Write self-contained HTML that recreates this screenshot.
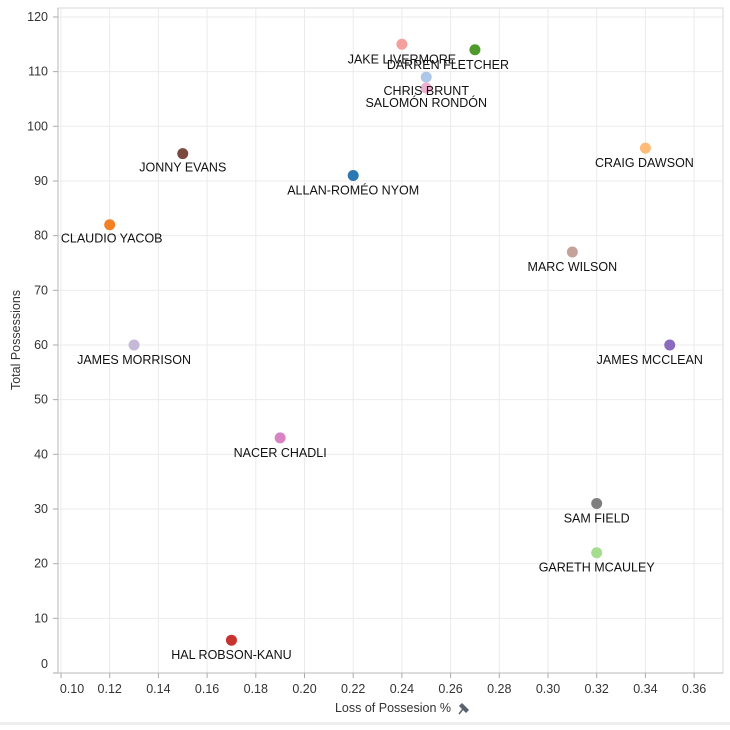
<!DOCTYPE html>
<html><head><meta charset="utf-8"><style>
body{margin:0;background:#fff;font-family:"Liberation Sans",sans-serif;}
svg text{font-family:"Liberation Sans",sans-serif;}
</style></head><body>
<svg id="c" width="730" height="725"></svg>
<script>
const names=["JAKE LIVERMORE","DARREN FLETCHER","CHRIS BRUNT","SALOMÓN RONDÓN","CRAIG DAWSON","JONNY EVANS","ALLAN-ROMÉO NYOM","CLAUDIO YACOB","MARC WILSON","JAMES MORRISON","JAMES MCCLEAN","NACER CHADLI","SAM FIELD","GARETH MCAULEY","HAL ROBSON-KANU"];
const lossPct=[0.24,0.27,0.25,0.25,0.34,0.15,0.22,0.12,0.31,0.13,0.35,0.19,0.32,0.32,0.17];
const possessions=[115,114,109,107,96,95,91,82,77,60,60,43,31,22,6];
const colors=["#f4a09c","#4f9a2c","#aec7e8","#eeb0d0","#ffbb78","#7a4a3f","#2a78b4","#f28125","#c4a29a","#c5b8d8","#8b6bbd","#d883c4","#7f7f7f","#a6dc8e","#c9332f"];
const labelDx=[0,-27,0,0,-1,0,0,2,0,0,-20,0,0,0,0];
const labelDy=[15,15,14,15,15,14,15,14,15,15,15,15,15,15,15];
const xTicks=[0.10,0.12,0.14,0.16,0.18,0.20,0.22,0.24,0.26,0.28,0.30,0.32,0.34,0.36];
const yTicks=[0,10,20,30,40,50,60,70,80,90,100,110,120];
const NS="http://www.w3.org/2000/svg";
const svg=document.getElementById('c');
const X=v=>61+(v-0.10)*2435;
const Y=v=>673-v*5.467;
function el(t,a,p){const e=document.createElementNS(NS,t);for(const k in a)e.setAttribute(k,a[k]);(p||svg).appendChild(e);return e;}
const frame=el('rect',{x:58,y:8,width:665,height:665,fill:'#fff',stroke:'#d8d8d8'});


xTicks.forEach(t=>{
  const g=el('line',{x1:X(t),x2:X(t),y1:8,y2:673,stroke:'#ebebeb'});
  
  
  el('line',{x1:X(t),x2:X(t),y1:673,y2:678,stroke:'#aaa'});
  const tx=el('text',{x:Math.max(X(t),72),y:693,'font-size':12.5,'text-anchor':'middle',fill:'#333'});
  tx.textContent=t.toFixed(2);
  
  
});
yTicks.forEach(t=>{
  const g=el('line',{x1:58,x2:723,y1:Y(t),y2:Y(t),stroke:'#ebebeb'});
  
  
  el('line',{x1:53,x2:58,y1:Y(t),y2:Y(t),stroke:'#aaa'});
  const tx=el('text',{x:48,y:Math.min(Y(t),664)+4,'font-size':12.5,'text-anchor':'end',fill:'#333'});
  tx.textContent=t;
  
  
});
el('line',{x1:58,x2:723,y1:673,y2:673,stroke:'#b8b8b8'});
el('line',{x1:58,x2:58,y1:8,y2:673,stroke:'#b8b8b8'});
names.forEach((n,i)=>{
  const c=el('circle',{cx:X(lossPct[i]),cy:Y(possessions[i]),r:5.5,fill:colors[i]});
  
  
});
names.forEach((n,i)=>{
  const t=el('text',{x:X(lossPct[i])+labelDx[i],y:Y(possessions[i])+labelDy[i]+4,'font-size':12.5,'text-anchor':'middle',fill:'#111'});
  t.textContent=n;
  
  
});
const xt=el('text',{x:393,y:712,'font-size':12.5,'text-anchor':'middle',fill:'#333'});
xt.textContent='Loss of Possesion %';


const pin=el('path',{d:'M459 714 L463 709 L460 706 L462 704 L468 710 L466 712 L463 709',fill:'#5a6270',stroke:'#5a6270','stroke-width':1.5});


const yt=el('text',{x:0,y:0,'font-size':12.5,'text-anchor':'middle',fill:'#333',transform:'translate(20,340) rotate(-90)'});
yt.textContent='Total Possessions';


el('rect',{x:0,y:722,width:730,height:3,fill:'#eee'});
</script>
</body></html>
